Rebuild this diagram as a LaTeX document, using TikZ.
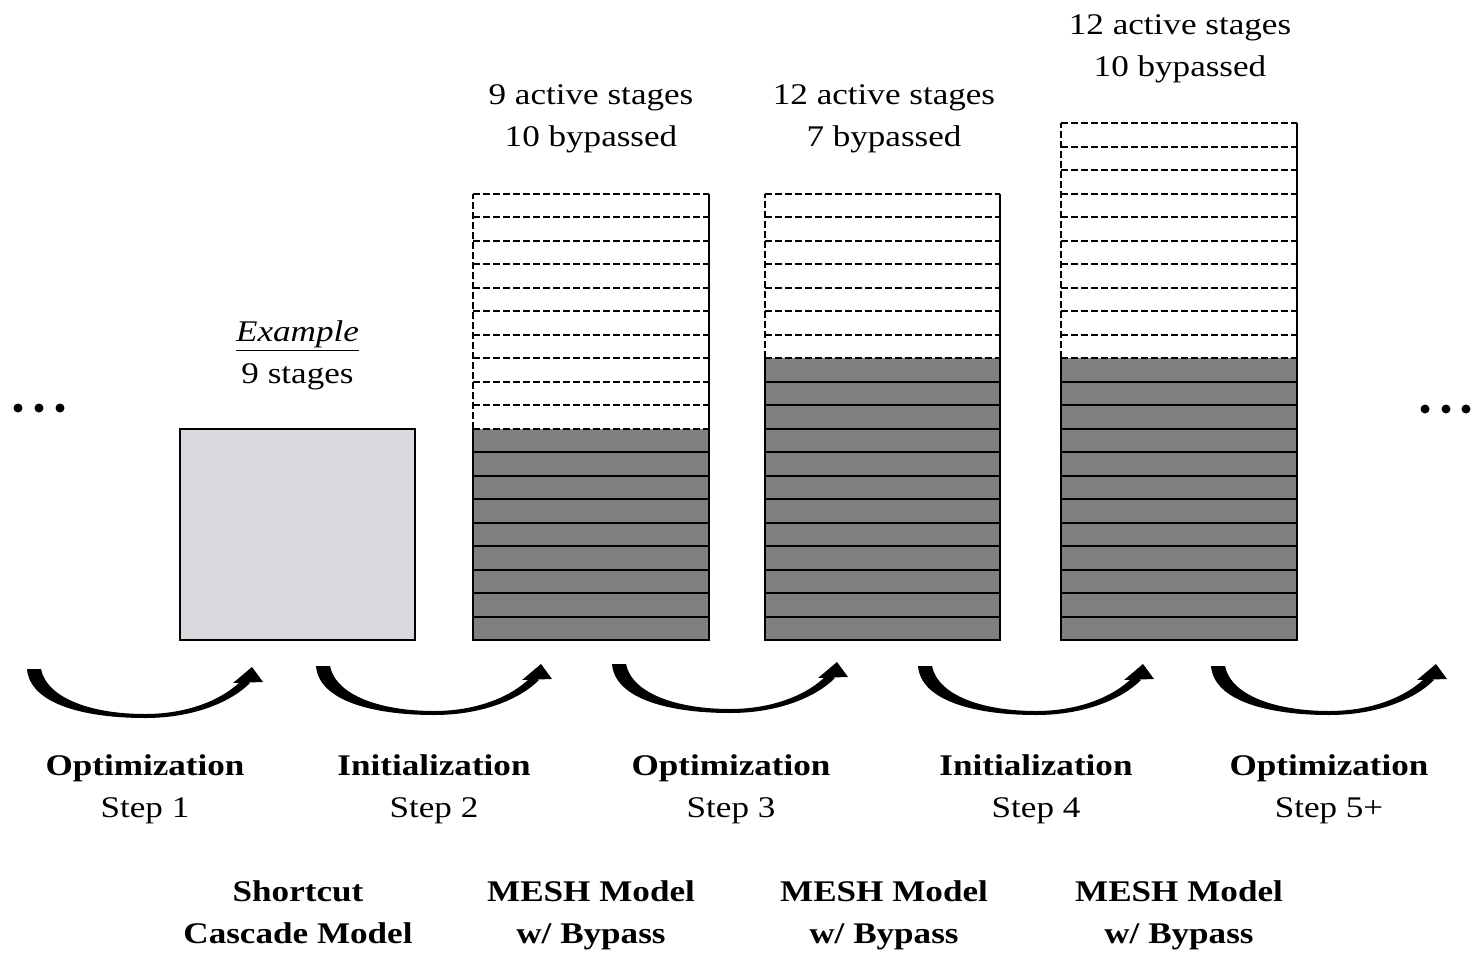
\documentclass[tikz,border=0pt]{standalone}
\usepackage{fontspec}
\setmainfont{Liberation Serif}[FakeStretch=1.17]
\definecolor{boxgray}{RGB}{217,218,222}
\definecolor{stagegray}{RGB}{128,128,128}
\begin{document}
\begin{tikzpicture}[x=0.5pt,y=-0.5pt,
  lbl/.style={inner sep=0pt, align=center, anchor=base, font=\fontsize{15}{21}\selectfont},
  boldlbl/.style={lbl, font=\fontsize{15}{21}\selectfont\bfseries},
  edge/.style={line width=1pt, black},
  dashedge/.style={line width=1pt, black, dash pattern=on 3.5pt off 1.5pt},
  pics/cyclearrow/.style={code={
    % tapered crescent shaft
    \fill[black] (0,0) .. controls (3,36) and (60,49) .. (118,49)
      .. controls (165,49) and (203,34) .. (223,14) -- (216,10)
      .. controls (197,30) and (162,45) .. (118,45)
      .. controls (66,45) and (20,30) .. (14,0) -- cycle;
    % head
    \fill[black] (206,14) -- (225,-2) -- (236,13) -- cycle;
  }}
]
\useasboundingbox (0,0) rectangle (1473,953);

% leading and trailing ellipses
\foreach \x [count=\k] in {18,39,60} \fill (\x,408) circle (4.5) coordinate (dotL\k);
\foreach \x [count=\k] in {1425,1446,1466} \fill (\x,409) circle (4.5) coordinate (dotR\k);

% shortcut cascade model block
\node[draw, line width=1pt, fill=boxgray, minimum width=117.5pt, minimum height=105.5pt, inner sep=0pt]
  (cascade) at (297.5,534.5) {};

% MESH stacks: active stages (grey) below bypassed stages (dashed)
\foreach \xl/\xr/\na/\nb/\nm in {473/709/9/10/stackA, 765/1000/12/7/stackB, 1061/1297/12/10/stackC} {
  \pgfmathsetmacro\ytop{640-(\na+\nb)*23.5}
  \pgfmathsetmacro\ymid{640-\na*23.5}
  \pgfmathtruncatemacro\nlast{\na-1}
  \fill[stagegray] (\xl,640) rectangle (\xr,\ymid);
  \foreach \i in {1,...,\nlast} \draw[edge] (\xl,{640-\i*23.5}) -- (\xr,{640-\i*23.5});
  \draw[edge] (\xl,\ymid) -- (\xl,640) -- (\xr,640) -- (\xr,\ymid);
  \fill[white] (\xl,\ymid) rectangle (\xr,\ytop);
  \foreach \i in {0,...,\nb} \draw[dashedge] (\xl,{\ymid-\i*23.5}) -- (\xr,{\ymid-\i*23.5});
  \draw[dashedge] (\xl,\ymid) -- (\xl,\ytop);
  \draw[edge] (\xr,\ymid) -- (\xr,\ytop);
  \coordinate (\nm-top) at ({(\xl+\xr)/2},\ytop);
}

% stage counts (anchored at the baseline of the last line)
\node[lbl] (exlbl) at (297.5,383) {\underline{\textit{Example}}\\9 stages};
\node[lbl] (cntA) at (591,146) {9 active stages\\10 bypassed};
\node[lbl] (cntB) at (884,146) {12 active stages\\7 bypassed};
\node[lbl] (cntC) at (1180,76) {12 active stages\\10 bypassed};

% step arrows
\pic (arr1) at (27,669) {cyclearrow};
\pic (arr2) at (316,666) {cyclearrow};
\pic (arr3) at (612,664) {cyclearrow};
\pic (arr4) at (918,666) {cyclearrow};
\pic (arr5) at (1211,666) {cyclearrow};

% step captions
\node[lbl] (step1) at (145,817) {\textbf{Optimization}\\Step 1};
\node[lbl] (step2) at (434,817) {\textbf{Initialization}\\Step 2};
\node[lbl] (step3) at (731,817) {\textbf{Optimization}\\Step 3};
\node[lbl] (step4) at (1036,817) {\textbf{Initialization}\\Step 4};
\node[lbl] (step5) at (1329,817) {\textbf{Optimization}\\Step 5+};

% model captions
\node[boldlbl] (modA) at (298,943) {Shortcut\\Cascade Model};
\node[boldlbl] (modB) at (591,943) {MESH Model\\w/ Bypass};
\node[boldlbl] (modC) at (884,943) {MESH Model\\w/ Bypass};
\node[boldlbl] (modD) at (1179,943) {MESH Model\\w/ Bypass};
\end{tikzpicture}
\end{document}
